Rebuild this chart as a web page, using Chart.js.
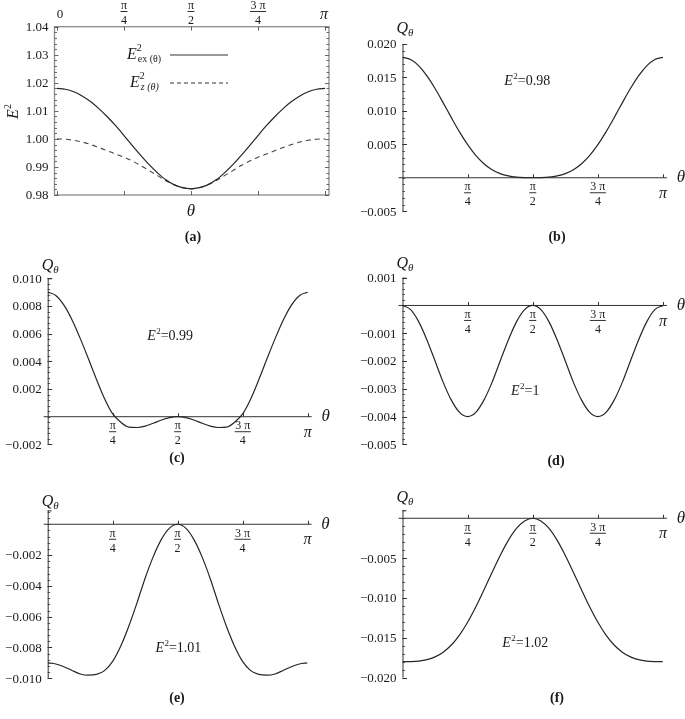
<!DOCTYPE html>
<html>
<head>
<meta charset="utf-8">
<script src="https://cdn.jsdelivr.net/npm/chart.js@4.4.1/dist/chart.umd.min.js"></script>
<style>
  body { margin: 0; background: #fff; }
  #page { position: relative; width: 685px; height: 719px; overflow: hidden; }
  canvas { position: absolute; }
</style>
</head>
<body>
<div id="page">
  <canvas id="pa" width="342" height="252" style="left:0;top:0"></canvas>
  <canvas id="pb" width="343" height="252" style="left:342px;top:0"></canvas>
  <canvas id="pc" width="342" height="252" style="left:0;top:240px"></canvas>
  <canvas id="pd" width="343" height="252" style="left:342px;top:240px"></canvas>
  <canvas id="pe" width="342" height="239" style="left:0;top:480px"></canvas>
  <canvas id="pf" width="343" height="239" style="left:342px;top:480px"></canvas>
</div>
<script>
// theta in units of pi
const thetaOverPi = [0, 0.03125, 0.0625, 0.09375, 0.125, 0.15625, 0.1875, 0.21875, 0.25,
  0.28125, 0.3125, 0.34375, 0.375, 0.40625, 0.4375, 0.46875, 0.5,
  0.53125, 0.5625, 0.59375, 0.625, 0.65625, 0.6875, 0.71875, 0.75,
  0.78125, 0.8125, 0.84375, 0.875, 0.90625, 0.9375, 0.96875, 1];

// (a) E^2 curves
const e2Ex = [1.0180, 1.0177, 1.0168, 1.0153, 1.0133, 1.0108, 1.0079, 1.0047, 1.0012,
  0.9976, 0.9941, 0.9908, 0.9879, 0.9854, 0.9836, 0.9826, 0.9822,
  0.9826, 0.9836, 0.9854, 0.9879, 0.9908, 0.9941, 0.9976, 1.0012,
  1.0047, 1.0079, 1.0108, 1.0133, 1.0153, 1.0168, 1.0177, 1.0180];
const e2Z = [1.0000, 0.9999, 0.9995, 0.9989, 0.9980, 0.9969, 0.9958, 0.9946, 0.9935,
  0.9921, 0.9905, 0.9887, 0.9869, 0.9851, 0.9837, 0.9826, 0.9822,
  0.9826, 0.9837, 0.9851, 0.9869, 0.9887, 0.9905, 0.9921, 0.9935,
  0.9946, 0.9958, 0.9969, 0.9980, 0.9989, 0.9995, 0.9999, 1.0000];

// (b)-(f) Q_theta for E^2 = 0.98, 0.99, 1, 1.01, 1.02
const qB = [0.0180, 0.01767, 0.01672, 0.01523, 0.01334, 0.01120, 0.00899, 0.00686, 0.00495,
  0.00335, 0.00210, 0.00120, 0.00061, 0.00027, 0.00009, 0.00002, 0,
  0.00002, 0.00009, 0.00027, 0.00061, 0.00120, 0.00210, 0.00335, 0.00495,
  0.00686, 0.00899, 0.01120, 0.01334, 0.01523, 0.01672, 0.01767, 0.0180];
const qC = [0.0090, 0.00876, 0.00806, 0.00699, 0.00566, 0.00420, 0.00270, 0.00130, 0.00020,
  -0.00040, -0.00075, -0.00078, -0.00068, -0.00047, -0.00024, -0.00006, 0,
  -0.00006, -0.00024, -0.00047, -0.00068, -0.00078, -0.00075, -0.00040, 0.00020,
  0.00130, 0.00270, 0.00420, 0.00566, 0.00699, 0.00806, 0.00876, 0.0090];
const qD = [0, -0.00015, -0.00059, -0.00124, -0.00200, -0.00277, -0.00341, -0.00385, -0.0040,
  -0.00385, -0.00341, -0.00277, -0.00200, -0.00124, -0.00059, -0.00015, 0,
  -0.00015, -0.00059, -0.00124, -0.00200, -0.00277, -0.00341, -0.00385, -0.0040,
  -0.00385, -0.00341, -0.00277, -0.00200, -0.00124, -0.00059, -0.00015, 0];
const qE = [-0.0090, -0.00907, -0.00925, -0.00949, -0.00972, -0.00980, -0.00975, -0.00950, -0.00890,
  -0.00790, -0.00660, -0.00510, -0.00350, -0.00210, -0.00098, -0.00025, 0,
  -0.00025, -0.00098, -0.00210, -0.00350, -0.00510, -0.00660, -0.00790, -0.00890,
  -0.00950, -0.00975, -0.00980, -0.00972, -0.00949, -0.00925, -0.00907, -0.0090];
const qF = [-0.0180, -0.01798, -0.01791, -0.01773, -0.01739, -0.01680, -0.01590, -0.01465, -0.01305,
  -0.01114, -0.00901, -0.00680, -0.00466, -0.00277, -0.00128, -0.00033, 0,
  -0.00033, -0.00128, -0.00277, -0.00466, -0.00680, -0.00901, -0.01114, -0.01305,
  -0.01465, -0.01590, -0.01680, -0.01739, -0.01773, -0.01791, -0.01798, -0.0180];

// tick labels
const xTicks = [0.25, 0.5, 0.75, 1];
const xTickNum = ['π', 'π', '3 π', 'π'];
const xTickDen = ['4', '2', '4', ''];
const yTicksA = [0.98, 0.99, 1.00, 1.01, 1.02, 1.03, 1.04];
const yTicksB = [-0.005, 0.005, 0.010, 0.015, 0.020];
const yTicksC = [-0.002, 0.002, 0.004, 0.006, 0.008, 0.010];
const yTicksD = [-0.005, -0.004, -0.003, -0.002, -0.001, 0.001];
const yTicksE = [-0.010, -0.008, -0.006, -0.004, -0.002];
const yTicksF = [-0.020, -0.015, -0.010, -0.005];

const SERIF = '"Liberation Serif", "DejaVu Serif", serif';
const INK = '#1a1a1a';

function pts(ys) {
  return thetaOverPi.map((t, i) => ({ x: t, y: ys[i] }));
}
function fmt(v, d) {
  const s = Math.abs(v).toFixed(d);
  return v < 0 ? '\u2212' + s : s;
}
function drawFrac(ctx, x, y, num, den) {
  ctx.font = '12px ' + SERIF;
  ctx.textAlign = 'center';
  ctx.textBaseline = 'middle';
  ctx.fillText(num, x, y);
  const w = Math.max(ctx.measureText(num).width, ctx.measureText(den).width) + 1;
  ctx.beginPath();
  ctx.moveTo(x - w / 2, y + 5.5);
  ctx.lineTo(x + w / 2, y + 5.5);
  ctx.lineWidth = 0.9;
  ctx.stroke();
  ctx.fillText(den, x, y + 15);
}
// italic E with superscript 2 then a plain suffix, centred on x
function drawE2(ctx, x, y, suffix) {
  ctx.textBaseline = 'alphabetic';
  ctx.textAlign = 'left';
  ctx.font = 'italic 14px ' + SERIF;
  const wE = ctx.measureText('E').width;
  ctx.font = '9px ' + SERIF;
  const w2 = ctx.measureText('2').width;
  ctx.font = '14px ' + SERIF;
  const wS = ctx.measureText(suffix).width;
  let cx = x - (wE + w2 + wS) / 2;
  const base = y + 5;
  ctx.font = 'italic 14px ' + SERIF;
  ctx.fillText('E', cx, base); cx += wE + 0.5;
  ctx.font = '9px ' + SERIF;
  ctx.fillText('2', cx, base - 6); cx += w2;
  ctx.font = '14px ' + SERIF;
  ctx.fillText(suffix, cx, base);
}
function drawQ(ctx, x, y) {
  ctx.textBaseline = 'alphabetic';
  ctx.textAlign = 'left';
  ctx.font = 'italic 16px ' + SERIF;
  ctx.fillText('Q', x - 9, y + 5);
  const w = ctx.measureText('Q').width;
  ctx.font = 'italic 11px ' + SERIF;
  ctx.fillText('θ', x - 9 + w, y + 8);
}
function drawCaption(ctx, x, y, txt) {
  ctx.font = 'bold 14px ' + SERIF;
  ctx.textAlign = 'center';
  ctx.textBaseline = 'middle';
  ctx.fillText(txt, x, y);
}
function drawPi(ctx, x, y) {
  ctx.font = 'italic 16px ' + SERIF;
  ctx.textAlign = 'center';
  ctx.textBaseline = 'middle';
  ctx.fillText('π', x, y);
}

// axes plugin for panels (b)-(f): axes crossing at the origin
function axesPlugin(cfg) {
  return {
    id: 'axes_' + cfg.name,
    beforeDatasetsDraw(chart) {
      const { ctx, chartArea: ca, scales: { x, y } } = chart;
      const x0 = x.getPixelForValue(0), y0 = y.getPixelForValue(0);
      ctx.save();
      ctx.strokeStyle = '#333';
      ctx.lineWidth = 1;
      ctx.beginPath();
      ctx.moveTo(x0 + 0.5, ca.top);
      ctx.lineTo(x0 + 0.5, ca.bottom);
      ctx.moveTo(x0 - 4, y0);
      ctx.lineTo(x.getPixelForValue(1) + 4, y0);
      ctx.stroke();
      // minor y ticks
      ctx.lineWidth = 0.8;
      ctx.beginPath();
      const start = Math.ceil(cfg.ymin / cfg.minor - 1e-6);
      for (let k = start; k * cfg.minor <= cfg.ymax + 1e-9; k++) {
        const py = Math.round(y.getPixelForValue(k * cfg.minor)) + 0.5;
        ctx.moveTo(x0, py);
        ctx.lineTo(x0 + 2.5, py);
      }
      ctx.stroke();
      // major y ticks
      ctx.lineWidth = 1;
      ctx.beginPath();
      cfg.yTicks.forEach(v => {
        const py = Math.round(y.getPixelForValue(v)) + 0.5;
        ctx.moveTo(x0, py);
        ctx.lineTo(x0 + 4.5, py);
      });
      ctx.moveTo(x0, ca.top + 0.5);
      ctx.lineTo(x0 + 4, ca.top + 0.5);
      // x ticks
      xTicks.forEach(v => {
        const px = Math.round(x.getPixelForValue(v)) + 0.5;
        ctx.moveTo(px, y0);
        ctx.lineTo(px, y0 - 3.5);
      });
      ctx.stroke();
      ctx.restore();
    },
    afterDraw(chart) {
      const { ctx, chartArea: ca, scales: { x, y } } = chart;
      const x0 = x.getPixelForValue(0), y0 = y.getPixelForValue(0);
      ctx.save();
      ctx.fillStyle = INK;
      ctx.strokeStyle = INK;
      // y tick labels
      ctx.font = '13px ' + SERIF;
      ctx.textAlign = 'right';
      ctx.textBaseline = 'middle';
      cfg.yTicks.forEach(v => ctx.fillText(fmt(v, 3), x0 - 6, y.getPixelForValue(v) + 1));
      // x tick labels
      xTicks.forEach((v, i) => {
        const px = x.getPixelForValue(v);
        if (xTickDen[i]) drawFrac(ctx, px, y0 + 9.5, xTickNum[i], xTickDen[i]);
        else drawPi(ctx, px, y0 + 16);
      });
      // axis labels
      ctx.font = 'italic 17px ' + SERIF;
      ctx.textAlign = 'center';
      ctx.textBaseline = 'middle';
      ctx.fillText('θ', x.getPixelForValue(1) + 18, y0);
      drawQ(ctx, x0 + 3, ca.top + cfg.qOff);
      drawE2(ctx, x.getPixelForValue(cfg.noteAt[0]), y.getPixelForValue(cfg.noteAt[1]), '=' + cfg.note);
      drawCaption(ctx, cfg.cap[0], cfg.cap[1], cfg.capText);
      ctx.restore();
    }
  };
}

function makeQChart(cfg) {
  return new Chart(document.getElementById(cfg.name), {
    type: 'line',
    data: {
      datasets: [{
        data: pts(cfg.data),
        borderColor: '#262626',
        borderWidth: 1.2,
        pointRadius: 0,
        cubicInterpolationMode: 'monotone',
        fill: false
      }]
    },
    options: {
      responsive: false,
      animation: false,
      layout: { padding: cfg.pad },
      plugins: { legend: { display: false }, tooltip: { enabled: false } },
      scales: {
        x: { type: 'linear', min: 0, max: 1, display: false },
        y: { type: 'linear', min: cfg.ymin, max: cfg.ymax, display: false }
      }
    },
    plugins: [axesPlugin(cfg)]
  });
}

// ---- panel (a): framed plot ----
const frameA = {
  id: 'frameA',
  beforeDatasetsDraw(chart) {
    const { ctx, chartArea: ca, scales: { x, y } } = chart;
    ctx.save();
    ctx.strokeStyle = '#8c8c8c';
    ctx.lineWidth = 1.3;
    ctx.strokeRect(ca.left, ca.top, ca.right - ca.left, ca.bottom - ca.top);
    ctx.strokeStyle = '#444';
    ctx.lineWidth = 0.8;
    ctx.beginPath();
    for (let i = 0; i <= 30; i++) {
      const py = Math.round(y.getPixelForValue(0.98 + i * 0.002)) + 0.5;
      const len = i % 5 === 0 ? 4 : 2.5;
      ctx.moveTo(ca.left, py); ctx.lineTo(ca.left + len, py);
      ctx.moveTo(ca.right, py); ctx.lineTo(ca.right - len, py);
    }
    [0].concat(xTicks).forEach(v => {
      const px = Math.round(x.getPixelForValue(v)) + 0.5;
      ctx.moveTo(px, ca.top); ctx.lineTo(px, ca.top + 4);
      ctx.moveTo(px, ca.bottom); ctx.lineTo(px, ca.bottom - 4);
    });
    ctx.stroke();
    ctx.restore();
  },
  afterDraw(chart) {
    const { ctx, chartArea: ca, scales: { x, y } } = chart;
    ctx.save();
    ctx.fillStyle = INK;
    ctx.strokeStyle = INK;
    ctx.font = '13px ' + SERIF;
    ctx.textAlign = 'right';
    ctx.textBaseline = 'middle';
    yTicksA.forEach(v => ctx.fillText(v.toFixed(2), ca.left - 6, y.getPixelForValue(v) + 1));
    // top tick labels
    ctx.font = '13px ' + SERIF;
    ctx.textAlign = 'center';
    ctx.fillText('0', x.getPixelForValue(0) + 3, 15);
    xTicks.forEach((v, i) => {
      const px = x.getPixelForValue(v);
      if (xTickDen[i]) drawFrac(ctx, px, 6, xTickNum[i], xTickDen[i]);
      else drawPi(ctx, px - 1, 15);
    });
    // axis labels
    ctx.font = 'italic 17px ' + SERIF;
    ctx.textAlign = 'center';
    ctx.textBaseline = 'middle';
    ctx.fillText('θ', x.getPixelForValue(0.5), 212);
    ctx.save();
    ctx.translate(13, 111);
    ctx.rotate(-Math.PI / 2);
    ctx.textAlign = 'left';
    ctx.textBaseline = 'alphabetic';
    ctx.font = 'italic 16px ' + SERIF;
    ctx.fillText('E', -8, 5);
    ctx.font = '10px ' + SERIF;
    ctx.fillText('2', 2, -2);
    ctx.restore();
    // legend
    const legend = [['ex (θ)', [], 55, 127], ['z (θ)', [4, 3], 83, 130]];
    legend.forEach(([sub, dash, ly, lx]) => {
      ctx.textAlign = 'left';
      ctx.textBaseline = 'alphabetic';
      ctx.font = 'italic 16px ' + SERIF;
      ctx.fillText('E', lx, ly + 4);
      const wE = ctx.measureText('E').width;
      ctx.font = '10px ' + SERIF;
      ctx.fillText('2', lx + wE, ly - 4);
      ctx.font = (sub.startsWith('z') ? 'italic ' : '') + '10px ' + SERIF;
      ctx.fillText(sub, lx + wE + 1, ly + 7);
      ctx.strokeStyle = '#333';
      ctx.lineWidth = 1.2;
      ctx.setLineDash(dash);
      ctx.beginPath();
      ctx.moveTo(170, ly);
      ctx.lineTo(228, ly);
      ctx.stroke();
      ctx.setLineDash([]);
    });
    drawCaption(ctx, 193, 237, '(a)');
    ctx.restore();
  }
};

new Chart(document.getElementById('pa'), {
  type: 'line',
  data: {
    datasets: [
      { data: pts(e2Ex), borderColor: '#262626', borderWidth: 1.2, pointRadius: 0,
        cubicInterpolationMode: 'monotone', fill: false },
      { data: pts(e2Z), borderColor: '#444', borderWidth: 1.1, borderDash: [5, 4], pointRadius: 0,
        cubicInterpolationMode: 'monotone', fill: false }
    ]
  },
  options: {
    responsive: false,
    animation: false,
    layout: { padding: { left: 54.5, right: 13, top: 26.7, bottom: 57 } },
    plugins: { legend: { display: false }, tooltip: { enabled: false } },
    scales: {
      x: { type: 'linear', min: -0.0093, max: 1.0149, display: false },
      y: { type: 'linear', min: 0.98, max: 1.04, display: false }
    }
  },
  plugins: [frameA]
});

makeQChart({ name: 'pb', data: qB, ymin: -0.005, ymax: 0.020, minor: 0.001, yTicks: yTicksB,
  pad: { left: 60.5, right: 22, top: 44, bottom: 40.8 }, qOff: -16,
  note: '0.98', noteAt: [0.478, 0.0146], cap: [215, 237], capText: '(b)' });
makeQChart({ name: 'pc', data: qC, ymin: -0.002, ymax: 0.010, minor: 0.0004, yTicks: yTicksC,
  pad: { left: 47.7, right: 34.3, top: 38.3, bottom: 47.6 }, qOff: -13,
  note: '0.99', noteAt: [0.47, 0.0059], cap: [177, 218], capText: '(c)' });
makeQChart({ name: 'pd', data: qD, ymin: -0.005, ymax: 0.001, minor: 0.0002, yTicks: yTicksD,
  pad: { left: 60.5, right: 22, top: 37.7, bottom: 47.7 }, qOff: -15,
  note: '1', noteAt: [0.47, -0.00304], cap: [214, 221], capText: '(d)' });
makeQChart({ name: 'pe', data: qE, ymin: -0.010, ymax: 0.0009, minor: 0.0004, yTicks: yTicksE,
  pad: { left: 47.7, right: 34.5, top: 30.4, bottom: 40.7 }, qOff: -9,
  note: '1.01', noteAt: [0.502, -0.00797], cap: [177, 218], capText: '(e)' });
makeQChart({ name: 'pf', data: qF, ymin: -0.020, ymax: 0.001, minor: 0.001, yTicks: yTicksF,
  pad: { left: 60.5, right: 22, top: 30.3, bottom: 41.3 }, qOff: -13,
  note: '1.02', noteAt: [0.47, -0.01552], cap: [215, 218], capText: '(f)' });
</script>
</body>
</html>
